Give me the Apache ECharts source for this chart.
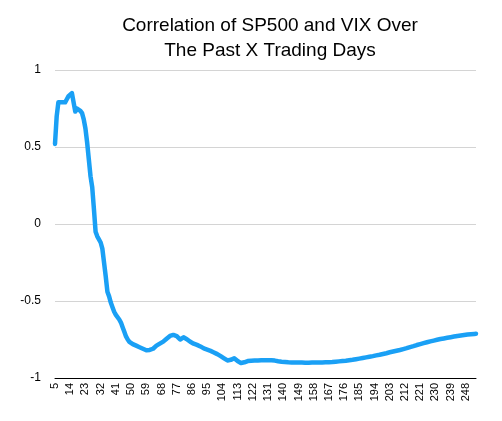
<!DOCTYPE html>
<html>
<head>
<meta charset="utf-8">
<script src="https://cdn.jsdelivr.net/npm/echarts@6/dist/echarts.min.js"></script>
<style>html,body{margin:0;padding:0;background:#fff}#c{width:502px;height:421px}</style>
</head>
<body>
<div id="c"></div>
<script>
const titleLines = ["Correlation of SP500 and VIX Over", "The Past X Trading Days"];
const firstDay = 5;
const correlation = [
  0.52, 0.70, 0.79, 0.80, 0.79, 0.79, 0.79, 0.81, 0.83, 0.84,
  0.85, 0.853, 0.73, 0.75, 0.745, 0.735, 0.72, 0.68, 0.62, 0.53,
  0.42, 0.31, 0.24, 0.10, -0.05, -0.08, -0.09, -0.12, -0.16, -0.25,
  -0.34, -0.44, -0.47, -0.51, -0.54, -0.57, -0.59, -0.60, -0.62, -0.64,
  -0.67, -0.70, -0.73, -0.75, -0.765, -0.775, -0.78, -0.785, -0.79, -0.795,
  -0.80, -0.805, -0.81, -0.815, -0.82, -0.82, -0.818, -0.818, -0.81, -0.80,
  -0.79, -0.785, -0.777, -0.77, -0.764, -0.755, -0.745, -0.735, -0.727, -0.722,
  -0.72, -0.72, -0.728, -0.74, -0.75, -0.745, -0.736, -0.74, -0.748, -0.755,
  -0.765, -0.772, -0.777, -0.78, -0.785, -0.79, -0.795, -0.802, -0.808, -0.812,
  -0.816, -0.82, -0.824, -0.828, -0.834, -0.84, -0.845, -0.85, -0.858, -0.866,
  -0.872, -0.88, -0.886, -0.888, -0.882, -0.876, -0.872, -0.88, -0.89, -0.896,
  -0.903, -0.905, -0.898, -0.892, -0.89, -0.888, -0.888, -0.887, -0.887, -0.886,
  -0.886, -0.885, -0.885, -0.886, -0.885, -0.885, -0.884, -0.885, -0.885, -0.886,
  -0.887, -0.889, -0.891, -0.893, -0.894, -0.895, -0.896, -0.897, -0.898, -0.898,
  -0.899, -0.899, -0.900, -0.900, -0.900, -0.901, -0.900, -0.901, -0.901, -0.900,
  -0.901, -0.900, -0.900, -0.901, -0.900, -0.900, -0.900, -0.899, -0.899, -0.898,
  -0.898, -0.897, -0.897, -0.896, -0.896, -0.895, -0.894, -0.893, -0.892, -0.891,
  -0.890, -0.889, -0.888, -0.887, -0.885, -0.884, -0.882, -0.880, -0.878, -0.876,
  -0.874, -0.872, -0.870, -0.868, -0.866, -0.864, -0.862, -0.860, -0.858, -0.856,
  -0.853, -0.851, -0.849, -0.846, -0.844, -0.841, -0.839, -0.836, -0.833, -0.831,
  -0.828, -0.826, -0.823, -0.820, -0.818, -0.815, -0.812, -0.809, -0.806, -0.803,
  -0.799, -0.796, -0.793, -0.789, -0.786, -0.783, -0.780, -0.777, -0.774, -0.771,
  -0.768, -0.765, -0.762, -0.759, -0.757, -0.754, -0.752, -0.750, -0.747, -0.745,
  -0.743, -0.741, -0.739, -0.737, -0.735, -0.733, -0.731, -0.729, -0.727, -0.726,
  -0.724, -0.723, -0.721, -0.720, -0.718, -0.717, -0.716, -0.715, -0.714, -0.713
];
const days = correlation.map((_, i) => String(firstDay + i));
const yTicks = [-1, -0.5, 0, 0.5, 1];

const chart = echarts.init(document.getElementById('c'), null, {renderer: 'canvas'});
const font = '"Liberation Sans", Arial, Helvetica, sans-serif';
chart.setOption({
  animation: false,
  backgroundColor: '#ffffff',
  title: {
    text: titleLines.join('\n'),
    left: 265,
    textAlign: 'center',
    top: 8,
    textStyle: {fontFamily: font, fontSize: 19, fontWeight: 'normal', color: '#000', lineHeight: 25}
  },
  grid: {left: 55, right: 26, top: 70, bottom: 43, containLabel: false},
  xAxis: {
    type: 'category',
    data: days,
    boundaryGap: false,
    axisLine: {show: true, onZero: false, lineStyle: {color: '#000', width: 1}},
    axisTick: {show: false},
    axisLabel: {interval: 8, rotate: 90, fontSize: 11, color: '#000', fontFamily: font, margin: 5}
  },
  yAxis: {
    type: 'value',
    min: yTicks[0],
    max: yTicks[yTicks.length - 1],
    interval: 0.5,
    axisLine: {show: false},
    axisTick: {show: false},
    splitLine: {show: true, lineStyle: {color: '#d4d4d4', width: 1}},
    axisLabel: {fontSize: 12, color: '#000', fontFamily: font, margin: 14,
      formatter: v => String(v)}
  },
  series: [{
    type: 'line',
    data: correlation,
    showSymbol: false,
    smooth: false,
    lineStyle: {color: '#1aa0f5', width: 4.5, join: 'round', cap: 'round'},
    itemStyle: {color: '#1aa0f5'}
  }]
});
</script>
</body>
</html>
